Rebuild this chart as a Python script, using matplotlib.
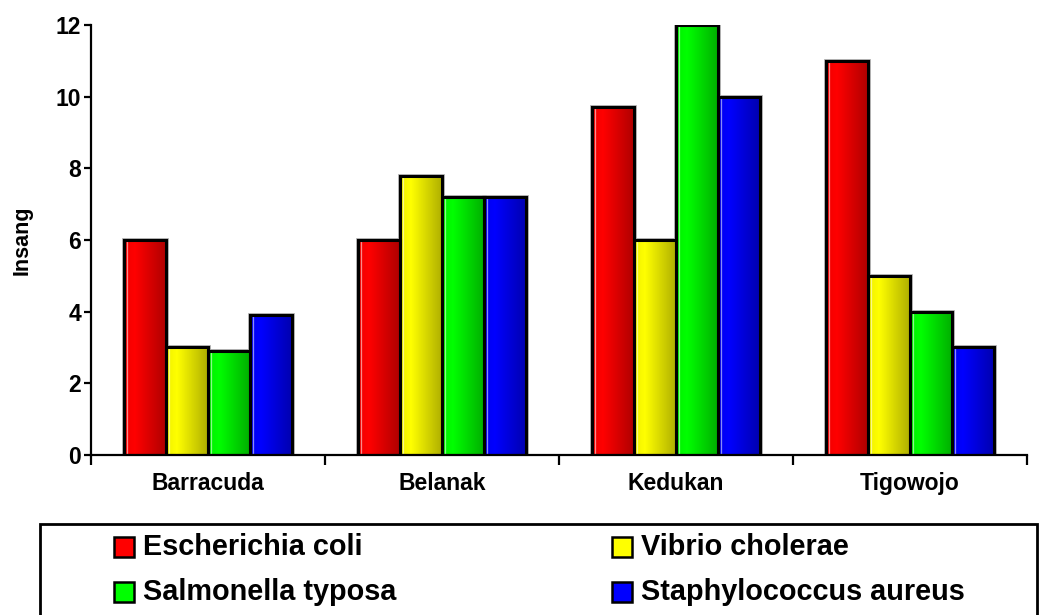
import numpy as np
import matplotlib.pyplot as plt
from matplotlib.colors import to_rgb
from matplotlib.patches import Rectangle

plt.rcParams['font.family'] = ['Liberation Sans', 'DejaVu Sans']
plt.rcParams['font.weight'] = 'bold'

# Daten
lokasi = ["Barracuda", "Belanak", "Kedukan", "Tigowojo"]
bakteri = ["Escherichia coli", "Vibrio cholerae", "Salmonella typosa", "Staphylococcus aureus"]
warna = ["#ff0000", "#ffff00", "#00ff00", "#0000ff"]
e_coli = [6.0, 6.0, 9.7, 11.0]
vibrio = [3.0, 7.8, 6.0, 5.0]
salmonella = [2.9, 7.2, 12.0, 4.0]
staph = [3.9, 7.2, 10.0, 3.0]
nilai = [e_coli, vibrio, salmonella, staph]


def gradien(warna_dasar, n=64):
    # Schattierung wie ein Zylinder: links hell, rechts dunkel
    t = np.linspace(0, 1, n)
    faktor = np.interp(t, [0, 0.25, 1], [0.94, 1.0, 0.68])
    rgb = np.array(to_rgb(warna_dasar))
    return (faktor[:, None] * rgb[None, :])[None, :, :]


fig = plt.figure(figsize=(10.4, 6.15), dpi=100)
ax = fig.add_axes([0.0875, 0.2602, 0.9, 0.6991])

lebar = 0.18
x = np.arange(len(lokasi))
for i, (seri, w) in enumerate(zip(nilai, warna)):
    offset = (i - 1.5) * lebar
    img = gradien(w)
    for xi, v in zip(x + offset, seri):
        x0, x1 = xi - lebar / 2, xi + lebar / 2
        ax.imshow(img, extent=[x0, x1, 0, v], aspect='auto', zorder=2,
                  interpolation='bilinear')
        # feiner Glanzstreifen
        ax.plot([x0 + 0.07 * lebar] * 2, [0, v], color='white', lw=0.9,
                alpha=0.55, zorder=2.5)
    # leichter grauer Rand um die Säulen
    ax.bar(x + offset, seri, width=lebar, facecolor='none',
           edgecolor='#aaaaaa', linewidth=3.4, zorder=1.8)
    ax.bar(x + offset, seri, width=lebar, facecolor='none',
           edgecolor='black', linewidth=2.2, zorder=3)

ax.set_xlim(-0.5, 3.5)
ax.set_ylim(0, 12)
ax.set_yticks(np.arange(0, 13, 2))
ax.set_xticks(x)
ax.set_xticklabels(lokasi, fontsize=16.5, fontweight='bold')
ax.set_xticks(np.arange(-0.5, 4, 1), minor=True)
ax.tick_params(axis='x', which='major', length=0, pad=12)
ax.tick_params(axis='x', which='minor', length=7, width=1.6, direction='out')
ax.tick_params(axis='y', labelsize=16.5, length=5, width=1.6, pad=2)
for lbl in ax.get_yticklabels():
    lbl.set_fontweight('bold')
ax.set_ylabel("Insang", fontsize=15.5, fontweight='bold', labelpad=17)

for s in ['top', 'right']:
    ax.spines[s].set_visible(False)
for s in ['left', 'bottom']:
    ax.spines[s].set_linewidth(1.6)

# Legende unten im Kasten
W, H = 1040.0, 615.0
fig.patches.append(Rectangle((40 / W, -0.05), 997 / W, 0.05 + (615 - 524) / H,
                             transform=fig.transFigure, fill=False,
                             edgecolor='black', linewidth=2.0))
posisi = [(114, 547), (612, 547), (114, 592), (612, 592)]
for (px, py), nama, w in zip(posisi, bakteri, warna):
    fig.patches.append(Rectangle((px / W, 1 - (py + 10) / H), 20 / W, 20 / H,
                                 transform=fig.transFigure, facecolor=w,
                                 edgecolor='black', linewidth=1.8))
    fig.text((px + 29) / W, 1 - py / H, nama, fontsize=20.8,
             fontweight='bold', va='center', ha='left')

fig.savefig("out.png", dpi=100)
